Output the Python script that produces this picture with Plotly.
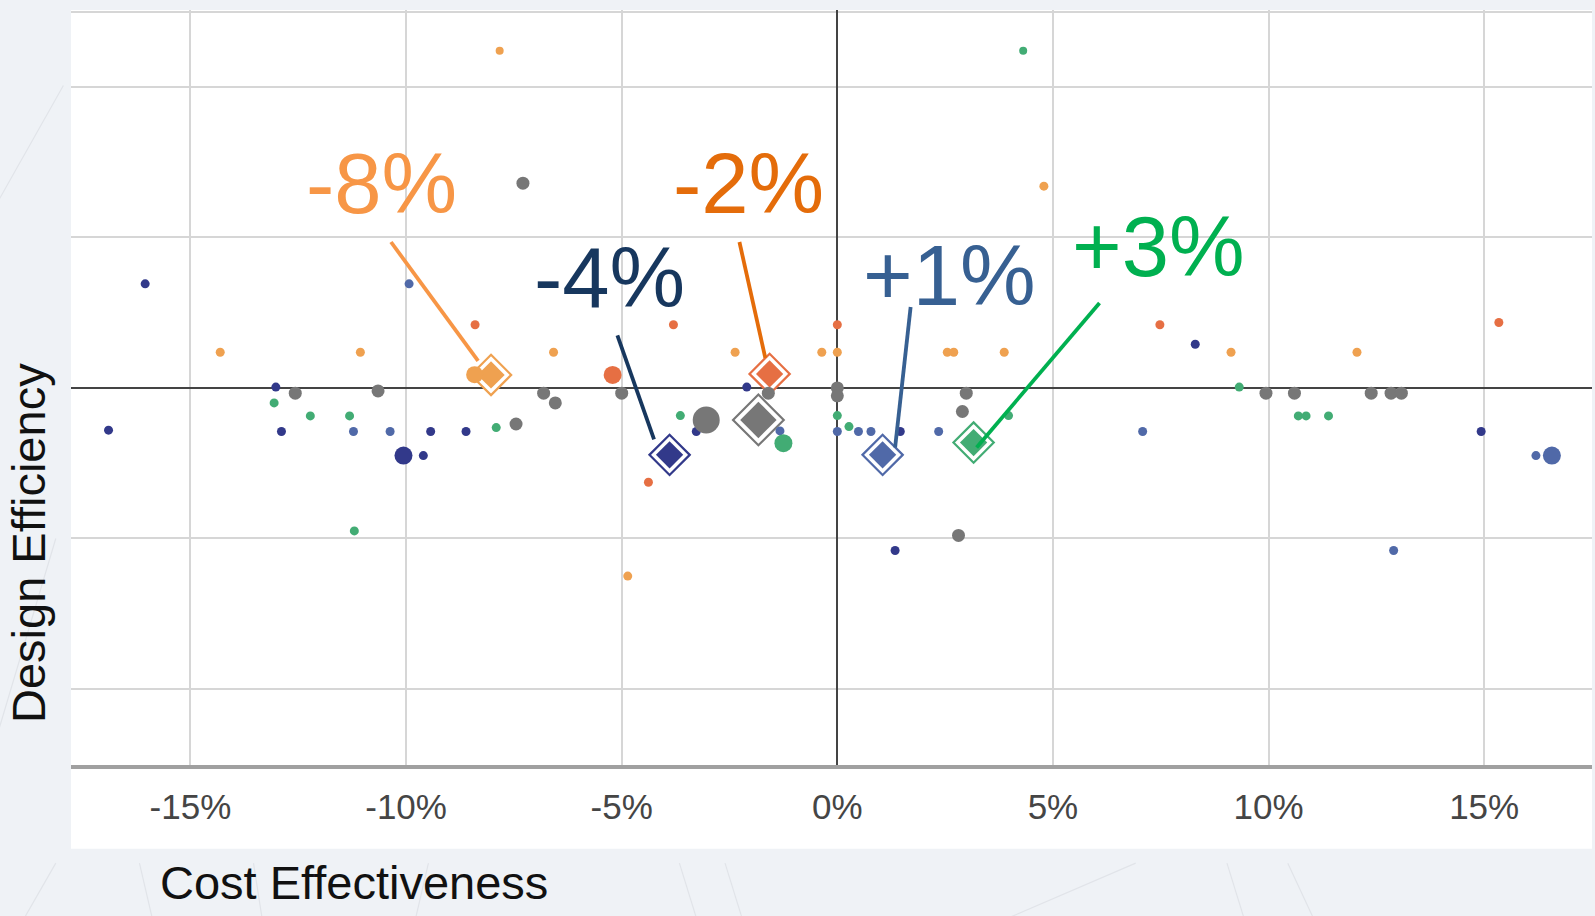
import plotly.graph_objects as go

# ---------------- data (x = cost effectiveness %, y = design efficiency) -------------
series_names = ["-8%", "-2%", "-4%", "+1%", "+3%", "avg"]

lo_x = [-7.83, -14.31, -11.06, -6.58, -2.37, -0.36, 0.0, 2.55, 2.70, 3.87, 9.13, 12.05, 4.79, -4.86, -8.41]
lo_y = [2.24, 0.237, 0.237, 0.237, 0.237, 0.237, 0.237, 0.237, 0.237, 0.237, 0.237, 0.237, 1.34, -1.25, 0.088]
lo_w = [8, 9, 9, 9, 9, 9, 9, 9, 9, 9, 9, 9, 9, 9, 17]

ro_x = [-8.40, -3.80, 0.0, 7.48, 15.34, -4.38, -5.21]
ro_y = [0.419, 0.419, 0.419, 0.419, 0.434, -0.627, 0.086]
ro_w = [9, 9, 9, 9, 9, 9, 18]

nv_x = [-16.05, -13.02, -16.90, -12.89, -9.43, -10.06, -9.60, -8.61, -3.27, -2.10, 1.46, 8.30, 14.93, 1.34]
nv_y = [0.691, 0.005, -0.281, -0.29, -0.29, -0.45, -0.45, -0.29, -0.29, 0.005, -0.29, 0.29, -0.29, -1.08]
nv_w = [9, 9, 9, 9, 9, 18, 9, 9, 9, 9, 9, 9, 9, 9]

bl_x = [-9.93, -11.22, -10.37, -1.33, 0.0, 0.49, 0.78, 2.35, 7.08, 16.20, 16.57, 12.9]
bl_y = [0.691, -0.29, -0.29, -0.286, -0.29, -0.29, -0.29, -0.29, -0.29, -0.45, -0.45, -1.08]
bl_w = [9, 9, 9, 9, 9, 9, 9, 9, 9, 9, 18, 9]

gr_x = [4.31, -13.06, -12.22, -11.31, -11.2, -7.91, -3.64, -1.25, 0.0, 0.27, 3.97, 9.32, 10.69, 10.87, 11.39]
gr_y = [2.24, -0.10, -0.186, -0.186, -0.95, -0.264, -0.184, -0.367, -0.184, -0.257, -0.184, 0.005, -0.186, -0.186, -0.186]
gr_w = [8, 9, 9, 9, 9, 9, 9, 18, 9, 9, 9, 9, 9, 9, 9]

gy_x = [-7.29, -12.57, -10.65, -6.81, -6.54, -5.0, -7.45, -3.04, -1.60, 0.0, 0.0, 2.99, 2.90, 2.81, 9.94, 10.6, 12.38, 12.84, 13.08]
gy_y = [1.36, -0.035, -0.02, -0.035, -0.10, -0.035, -0.24, -0.213, -0.035, 0.0, -0.053, -0.035, -0.157, -0.98, -0.035, -0.035, -0.035, -0.035, -0.035]
gy_w = [13, 13, 13, 13, 13, 13, 13, 27, 13, 13, 13, 13, 13, 13, 13, 13, 13, 13, 13]

# series averages (diamonds)
avg_x = [-8.03, -1.57, -3.89, 1.05, 3.16, -1.83]
avg_y = [0.086, 0.093, -0.445, -0.445, -0.363, -0.213]

# callout labels and their positions
label_text = ["-8%", "-2%", "-4%", "+1%", "+3%"]
label_x = [-10.57, -2.05, -5.29, 2.59, 7.44]
label_y = [1.355, 1.355, 0.731, 0.744, 0.937]
leader_x0 = [-10.35, -2.27, -5.10, 1.70, 6.08]
leader_y0 = [0.969, 0.969, 0.348, 0.537, 0.564]
leader_x1 = [-8.33, -1.67, -4.25, 1.34, 3.23]
leader_y1 = [0.179, 0.199, -0.342, -0.396, -0.396]

x_ticks = [-15, -10, -5, 0, 5, 10, 15]
x_tick_labels = ["-15%", "-10%", "-5%", "0%", "5%", "10%", "15%"]

# ---------------- styles ----------------
dot_colors = ["#EFA150", "#E66F43", "#32398A", "#5069A8", "#42AC74", "#777777"]
label_colors = ["#F79646", "#E46C0A", "#17375E", "#376092", "#00B050"]
FONT = "Liberation Sans, Arial, sans-serif"
BG = "#EFF2F6"

fig = go.Figure()

# diamonds (outer ring + inner fill)
for i in range(6):
    big = (i == 5)
    fig.add_trace(go.Scatter(
        x=[avg_x[i]], y=[avg_y[i]], mode="markers", showlegend=False, hoverinfo="skip",
        marker=dict(symbol="diamond", size=39 if big else 31, color="white",
                    line=dict(color=dot_colors[i], width=2.2), opacity=1)))
    fig.add_trace(go.Scatter(
        x=[avg_x[i]], y=[avg_y[i]], mode="markers", showlegend=False, hoverinfo="skip",
        marker=dict(symbol="diamond", size=28 if big else 21, color=dot_colors[i],
                    line=dict(width=0))))

groups = [(lo_x, lo_y, lo_w), (ro_x, ro_y, ro_w), (nv_x, nv_y, nv_w),
          (bl_x, bl_y, bl_w), (gr_x, gr_y, gr_w), (gy_x, gy_y, gy_w)]
for i, (gx, gyy, gw) in enumerate(groups):
    fig.add_trace(go.Scatter(
        x=gx, y=gyy, mode="markers", name=series_names[i], showlegend=False,
        marker=dict(symbol="circle", size=gw, color=dot_colors[i], line=dict(width=0), opacity=1)))

shapes = [
    # white panel behind plot and tick labels
    dict(type="rect", xref="paper", yref="paper", x0=0, x1=1, y0=-0.111, y1=1.0,
         fillcolor="white", line=dict(width=0), layer="below"),
]
# faint background texture lines (outside the panel)
bg_lines = [
    ((-0.047, -0.26), (-0.01, -0.13)), ((0.06, -0.26), (0.045, -0.13)),
    ((0.13, -0.26), (0.12, -0.13)), ((0.22, -0.26), (0.235, -0.13)),
    ((0.42, -0.26), (0.40, -0.13)), ((0.45, -0.26), (0.43, -0.13)),
    ((0.78, -0.26), (0.76, -0.13)), ((0.83, -0.26), (0.80, -0.13)),
    ((0.55, -0.26), (0.70, -0.13)), ((-0.047, 0.05), (-0.01, 0.30)),
    ((-0.047, 0.75), (-0.005, 0.90)),
]
for (a, b) in bg_lines:
    shapes.append(dict(type="line", xref="paper", yref="paper", x0=a[0], y0=a[1], x1=b[0], y1=b[1],
                       line=dict(color="#E1E4E9", width=1.2), layer="below"))
for i in range(5):
    shapes.append(dict(type="line", xref="x", yref="y",
                       x0=leader_x0[i], y0=leader_y0[i], x1=leader_x1[i], y1=leader_y1[i],
                       line=dict(color=label_colors[i], width=3.8), layer="above"))

annotations = []
for i in range(5):
    annotations.append(dict(x=label_x[i], y=label_y[i], xref="x", yref="y",
                            text=label_text[i], showarrow=False,
                            xanchor="center", yanchor="middle",
                            font=dict(family=FONT, size=85, color=label_colors[i])))
annotations.append(dict(x=(158 - 71) / 1521, y=(765 - 882) / 755, xref="paper", yref="paper",
                        text="Cost Effectiveness", showarrow=False, xanchor="left", yanchor="middle",
                        font=dict(family=FONT, size=47, color="#111111")))
annotations.append(dict(x=(28 - 71) / 1521, y=(765 - 543) / 755, xref="paper", yref="paper",
                        text="Design Efficiency", showarrow=False, textangle=-90,
                        xanchor="center", yanchor="middle",
                        font=dict(family=FONT, size=47, color="#111111")))

fig.update_layout(
    width=1595, height=916,
    margin=dict(l=71, r=3, t=10, b=151),
    paper_bgcolor=BG,
    plot_bgcolor="white",
    shapes=shapes,
    annotations=annotations,
    xaxis=dict(range=[-17.77, 17.50], tickvals=x_ticks, ticktext=x_tick_labels,
               showgrid=True, gridcolor="#D6D6D6", gridwidth=2,
               zeroline=True, zerolinecolor="#444444", zerolinewidth=2,
               showline=True, linecolor="#A0A0A0", linewidth=4,
               ticks="outside", ticklen=8, tickcolor="rgba(0,0,0,0)",
               tickfont=dict(family=FONT, size=35, color="#454545"), fixedrange=True),
    yaxis=dict(range=[-2.505, 2.51], tickvals=[-2, -1, 0, 1, 2, 2.5], showticklabels=False,
               showgrid=True, gridcolor="#D6D6D6", gridwidth=2,
               zeroline=True, zerolinecolor="#444444", zerolinewidth=2,
               showline=False, ticks="", fixedrange=True),
)

fig.write_html(
    "out.html",
    config={"displayModeBar": False},
    post_script=("document.body.style.margin='0';document.body.style.overflow='hidden';"
                 "document.body.style.background='" + BG + "';"),
)
